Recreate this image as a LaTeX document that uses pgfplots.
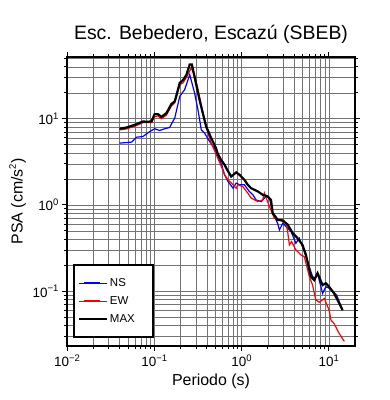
\documentclass[border=0pt]{standalone}
\usepackage{fontspec}
\setmainfont{Liberation Sans}
\usepackage{pgfplots}
\pgfplotsset{compat=1.18}

\newcommand{\expo}[1]{\raisebox{0.42em}{\fontsize{9.5}{10}\selectfont #1}}
\newcommand{\logtick}{\pgfmathtruncatemacro{\e}{round(\tick)}10\expo{\ifnum\e<0 −\the\numexpr-\e\relax\else\e\fi}}

\begin{document}
\begin{tikzpicture}
\begin{axis}[
  name=ax,
  xmode=log, ymode=log,
  log basis x=10, log basis y=10,
  scale only axis,
  width=288bp, height=289bp,
  xmin=0.01, xmax=20,
  ymin=0.023, ymax=52,
  grid=both,
  major grid style={black!55, line width=0.45bp},
  minor grid style={black!55, line width=0.45bp},
  tick align=outside,
  major tick length=5bp,
  minor tick length=3bp,
  every tick/.style={black, line width=0.7bp},
  axis line style={line width=1.5bp},
  xticklabel={\logtick},
  yticklabel={\logtick},
  ticklabel style={font=\fontsize{13.5}{15}\selectfont},
  title={Esc. Bebedero, Escazú (SBEB)},
  title style={font=\fontsize{19.5}{22}\selectfont, yshift=4bp},
  xlabel={Periodo (s)},
  ylabel={PSA (cm/s\expo{2})},
  label style={font=\fontsize{16}{18}\selectfont},
  legend style={at={(0.021,0.028)}, anchor=south west, draw=black, line width=1.5bp,
    fill=white, inner xsep=4bp, inner ysep=10bp, row sep=2bp,
    font=\fontsize{11.5}{13}\selectfont,
    nodes={inner sep=2bp, text height=9bp, text depth=3bp}},
  legend cell align=left,
]
\addplot[blue, line width=1.2bp,
  legend image code/.code={\path (0bp,0bp) -- (28bp,0bp); \draw[draw=blue, line width=1.5bp] (5bp,0bp) -- (21bp,0bp);}] coordinates {
(0.040,5.2) (0.055,5.35) (0.0625,6.1) (0.074,6.2) (0.089,7.1) (0.101,7.65)
(0.115,7.3) (0.132,7.65) (0.150,7.9) (0.172,10.2) (0.196,18.2) (0.223,21.7)
(0.255,32.5) (0.29,19.9) (0.317,12.7) (0.346,7.45) (0.378,6.8) (0.43,5.45)
(0.49,4.56) (0.536,3.6) (0.586,3.0) (0.64,2.23) (0.70,1.87) (0.80,1.56)
(0.87,1.79) (0.95,1.71) (1.08,1.71) (1.23,1.43) (1.35,1.31) (1.47,1.14)
(1.68,1.09) (1.91,1.25) (2.09,1.2) (2.28,0.80) (2.6,0.61) (2.72,0.51)
(2.97,0.61) (3.24,0.56) (3.7,0.49) (4.2,0.358) (4.6,0.41) (5.25,0.286)
(5.99,0.19) (6.53,0.147) (7.0,0.14) (7.45,0.16) (8.5,0.094) (9.27,0.112)
(10.1,0.108) (12.3,0.09) (14.4,0.06)
};
\addlegendentry{\makebox[37bp][l]{NS}}
\addplot[red, line width=1.2bp,
  legend image code/.code={\path (0bp,0bp) -- (28bp,0bp); \draw[draw=red, line width=1.5bp] (5bp,0bp) -- (21bp,0bp);}] coordinates {
(0.040,7.4) (0.048,7.6) (0.060,8.2) (0.0745,9.0) (0.093,9.0) (0.101,10.5)
(0.110,10.8) (0.121,10.0) (0.138,11.0) (0.157,14.0) (0.172,15.3) (0.196,24.8)
(0.213,26) (0.233,30) (0.266,38.9) (0.29,32) (0.317,22) (0.346,14.5)
(0.378,9.5) (0.412,6.8) (0.45,5.2) (0.51,3.9) (0.61,2.55) (0.64,2.23)
(0.70,1.95) (0.80,1.71) (0.87,1.56) (0.91,1.71) (1.035,1.63) (1.18,1.37)
(1.29,1.2) (1.54,1.09) (1.75,1.14) (1.83,1.37) (2.09,0.957) (2.38,0.70)
(2.72,0.67) (3.24,0.61) (3.38,0.49) (3.54,0.343) (3.75,0.375) (4.2,0.30)
(4.8,0.262) (5.25,0.25) (6.0,0.147) (6.53,0.117) (7.1,0.079) (7.8,0.074)
(8.9,0.082) (10.1,0.060) (10.6,0.046) (11.5,0.042) (13.2,0.032) (15.1,0.026)
};
\addlegendentry{\makebox[37bp][l]{EW}}
\addplot[black, line width=2.2bp,
  legend image code/.code={\path (0bp,0bp) -- (28bp,0bp); \draw[draw=black, line width=2.2bp] (5bp,0bp) -- (21bp,0bp);}] coordinates {
(0.040,7.65) (0.048,7.9) (0.060,8.5) (0.0745,9.3) (0.082,9.2) (0.093,9.3)
(0.101,11.3) (0.110,11.3) (0.121,10.5) (0.138,11.6) (0.157,14.8) (0.172,15.9)
(0.196,26) (0.213,28) (0.233,32) (0.255,42.5) (0.270,42.5) (0.300,26)
(0.330,16.6) (0.360,11.6) (0.394,8.1) (0.45,5.95) (0.51,4.56) (0.536,3.9)
(0.586,3.3) (0.64,2.92) (0.668,2.67) (0.762,2.13) (0.87,2.38) (0.95,2.23)
(1.08,1.95) (1.18,1.71) (1.29,1.56) (1.54,1.43) (1.75,1.31) (2.0,1.25)
(2.18,1.14) (2.28,0.80) (2.6,0.67) (2.97,0.66) (3.38,0.59) (3.86,0.47)
(4.4,0.41) (5.0,0.343) (5.48,0.262) (6.25,0.147) (6.8,0.134) (7.45,0.161)
(8.5,0.117) (9.27,0.123) (10.1,0.112) (11.5,0.094) (13.2,0.072) (14.4,0.060)
};
\addlegendentry{\makebox[37bp][l]{MAX}}
\end{axis}
\pgfresetboundingbox
\path[use as bounding box] ([xshift=-67bp,yshift=-54bp]ax.south west) rectangle ([xshift=35bp,yshift=57bp]ax.north east);
\end{tikzpicture}
\end{document}
